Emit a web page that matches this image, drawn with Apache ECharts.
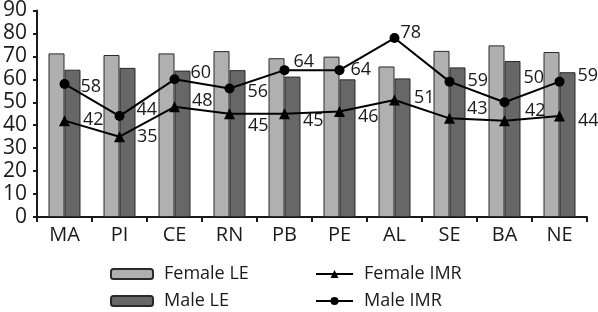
<!DOCTYPE html>
<html>
<head>
<meta charset="utf-8">
<script src="https://cdn.jsdelivr.net/npm/echarts@6/dist/echarts.min.js"></script>
<style>
  html, body { margin: 0; padding: 0; background: #fff; }
  #chart { width: 598px; height: 312px; }
</style>
</head>
<body>
<div id="chart"></div>
<script>
const states = ['MA', 'PI', 'CE', 'RN', 'PB', 'PE', 'AL', 'SE', 'BA', 'NE']
const femaleLE = [71.3, 70.6, 71.3, 72.3, 69.2, 69.9, 65.6, 72.4, 74.8, 71.9]
const maleLE = [64.2, 65.0, 63.8, 64.0, 61.2, 60.0, 60.4, 65.2, 68.0, 63.1]
const femaleIMR = [42, 35, 48, 45, 45, 46, 51, 43, 42, 44]
const maleIMR = [58, 44, 60, 56, 64, 64, 78, 59, 50, 59]
const yTicks = [0, 10, 20, 30, 40, 50, 60, 70, 80, 90]

// where each value label sits, relative to its point: [left edge dx, center dy]
const femaleLabelShift = [[18, -1], [17, 0], [17, -6], [18, 12], [18, 7], [18, 5], [19, -2], [17, -9], [20, -10], [18, 5]]
const maleLabelShift = [[16, 3], [17, -6], [16, -6], [18, 3], [9, -8], [11, 0], [6, -5], [18, -1], [19, -24], [18, -6]]

const font = '"Open Sans", "Noto Sans", sans-serif'
const ink = '#1a1a1a'

function withLabels(values, shifts) {
  return values.map((v, i) => ({
    value: v,
    label: { offset: [shifts[i][0] - 5, shifts[i][1]] }
  }))
}

const legendText = { fontFamily: font, fontSize: 18, lineHeight: 18, color: ink, padding: [0, 0, 0, 6] }

const myChart = echarts.init(document.getElementById('chart'))

const option = {
  animation: false,
  textStyle: { fontFamily: font, color: ink },
  grid: { left: 37, right: 11, top: 4, bottom: 95 },
  legend: [
    {
      orient: 'vertical',
      left: 110,
      top: 265,
      padding: 0,
      itemWidth: 42,
      itemHeight: 10,
      itemGap: 9,
      data: ['Female LE', 'Male LE'],
      textStyle: legendText
    },
    {
      orient: 'vertical',
      left: 315,
      top: 265,
      padding: 0,
      itemWidth: 37,
      itemHeight: 10,
      itemGap: 9,
      data: ['Female IMR', 'Male IMR'],
      textStyle: legendText
    }
  ],
  xAxis: {
    type: 'category',
    data: states,
    axisLine: { lineStyle: { color: ink, width: 2 } },
    axisTick: { show: true, length: 5, lineStyle: { color: ink, width: 2 } },
    axisLabel: { fontFamily: font, fontSize: 20, color: ink, margin: 8 }
  },
  yAxis: {
    type: 'value',
    min: yTicks[0],
    max: yTicks[yTicks.length - 1],
    interval: yTicks[1] - yTicks[0],
    axisLine: { show: true, lineStyle: { color: ink, width: 2 } },
    axisTick: { show: true, length: 4, lineStyle: { color: ink, width: 2 } },
    axisLabel: { fontFamily: font, fontSize: 21, color: ink, margin: 10 },
    splitLine: { show: false }
  },
  series: [
    {
      name: 'Female LE',
      type: 'bar',
      data: femaleLE,
      barWidth: 16,
      barGap: '0%',
      itemStyle: { color: '#b0b0b0', borderColor: '#2a2a2a', borderWidth: 1 }
    },
    {
      name: 'Male LE',
      type: 'bar',
      data: maleLE,
      barWidth: 16,
      barGap: '0%',
      itemStyle: { color: '#676767', borderColor: '#2a2a2a', borderWidth: 1 }
    },
    {
      name: 'Female IMR',
      type: 'line',
      data: withLabels(femaleIMR, femaleLabelShift),
      symbol: 'triangle',
      symbolSize: 11,
      z: 5,
      lineStyle: { color: '#000', width: 2 },
      itemStyle: { color: '#000' },
      label: { show: true, position: 'right', distance: 0, fontFamily: font, fontSize: 18, color: ink }
    },
    {
      name: 'Male IMR',
      type: 'line',
      data: withLabels(maleIMR, maleLabelShift),
      symbol: 'circle',
      symbolSize: 10,
      z: 5,
      lineStyle: { color: '#000', width: 2 },
      itemStyle: { color: '#000' },
      label: { show: true, position: 'right', distance: 0, fontFamily: font, fontSize: 18, color: ink }
    }
  ]
}

option && myChart.setOption(option)
</script>
</body>
</html>
